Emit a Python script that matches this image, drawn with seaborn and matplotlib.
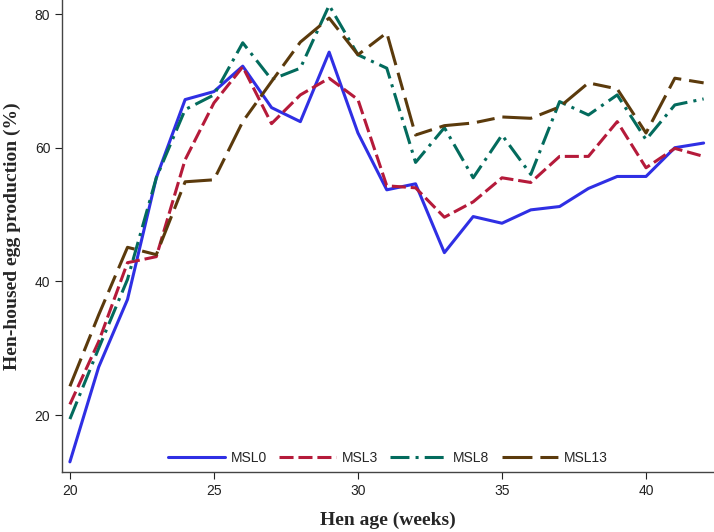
import pandas as pd
import seaborn as sns
import matplotlib
matplotlib.use('Agg')
import matplotlib.pyplot as plt

weeks = list(range(20, 43))
msl0 = [13.0, 27.2, 37.3, 55.5, 67.2, 68.4, 72.2, 66.0, 63.9, 74.3, 62.2, 53.7,
        54.6, 44.3, 49.7, 48.7, 50.7, 51.2, 53.9, 55.7, 55.7, 60.0, 60.7]
msl3 = [21.6, 31.0, 42.8, 43.7, 58.2, 66.7, 72.1, 63.6, 67.9, 70.4, 67.2, 54.3,
        54.0, 49.6, 51.9, 55.5, 54.8, 58.7, 58.7, 63.9, 57.0, 59.9, 58.7]
msl8 = [19.4, 30.0, 40.3, 55.5, 65.7, 67.9, 75.7, 70.2, 71.9, 81.3, 73.9, 71.9,
        57.8, 63.0, 55.5, 61.9, 56.0, 66.9, 64.9, 67.9, 61.2, 66.4, 67.3]
msl13 = [24.3, 35.0, 45.1, 44.0, 54.9, 55.2, 63.9, 69.9, 75.8, 79.4, 73.9, 77.2,
         61.9, 63.3, 63.7, 64.6, 64.4, 66.1, 69.7, 68.8, 62.2, 70.4, 69.7]
groups = ['MSL0', 'MSL3', 'MSL8', 'MSL13']

def organize_data():
    df = pd.DataFrame({'week': weeks, 'MSL0': msl0, 'MSL3': msl3,
                       'MSL8': msl8, 'MSL13': msl13})
    df = df.melt(id_vars='week', var_name='group', value_name='production')
    return df

def make_plot(df):
    sns.set_style('ticks')
    plt.rcParams['font.family'] = ['Liberation Sans', 'DejaVu Sans']
    fig = plt.figure(figsize=(7.14, 5.32), dpi=100)
    ax = fig.add_axes([0.087, 0.113, 0.913, 0.887])

    palette = {'MSL0': '#2f2fe4', 'MSL3': '#b51a3a',
               'MSL8': '#036b5d', 'MSL13': '#5b3a0c'}
    dashes = {'MSL0': '', 'MSL3': (4.6, 1.6),
              'MSL8': (6.2, 2.0, 1.0, 2.0), 'MSL13': (9.8, 2.6, 5.9, 2.6)}
    sns.lineplot(data=df, x='week', y='production', hue='group', style='group',
                 hue_order=groups, style_order=groups, palette=palette,
                 dashes=dashes, linewidth=2.2, ax=ax)

    ax.set_xlim(19.73, 42.36)
    ax.set_ylim(11.5, 82.1)
    ax.set_xticks([20, 25, 30, 35, 40])
    ax.set_yticks([20, 40, 60, 80])
    ax.tick_params(labelsize=10, length=5, width=0.8, colors='#222222')
    for s in ['top', 'right']:
        ax.spines[s].set_visible(False)
    for s in ['left', 'bottom']:
        ax.spines[s].set_color('#444444')
        ax.spines[s].set_linewidth(1.0)

    ax.set_xlabel('Hen age (weeks)', fontsize=14, fontweight='bold',
                  family='Liberation Serif', labelpad=10)
    ax.set_ylabel('Hen-housed egg production (%)', fontsize=14, fontweight='bold',
                  family='Liberation Serif', labelpad=10)

    ax.legend(ncol=4, loc='lower center', bbox_to_anchor=(0.5, 0.0),
              frameon=False, fontsize=10, handlelength=4.1,
              handletextpad=0.4, columnspacing=0.9, borderaxespad=0.1)
    fig.savefig('out.png', dpi=100)

if __name__ == "__main__":
    df = organize_data()
    make_plot(df)
